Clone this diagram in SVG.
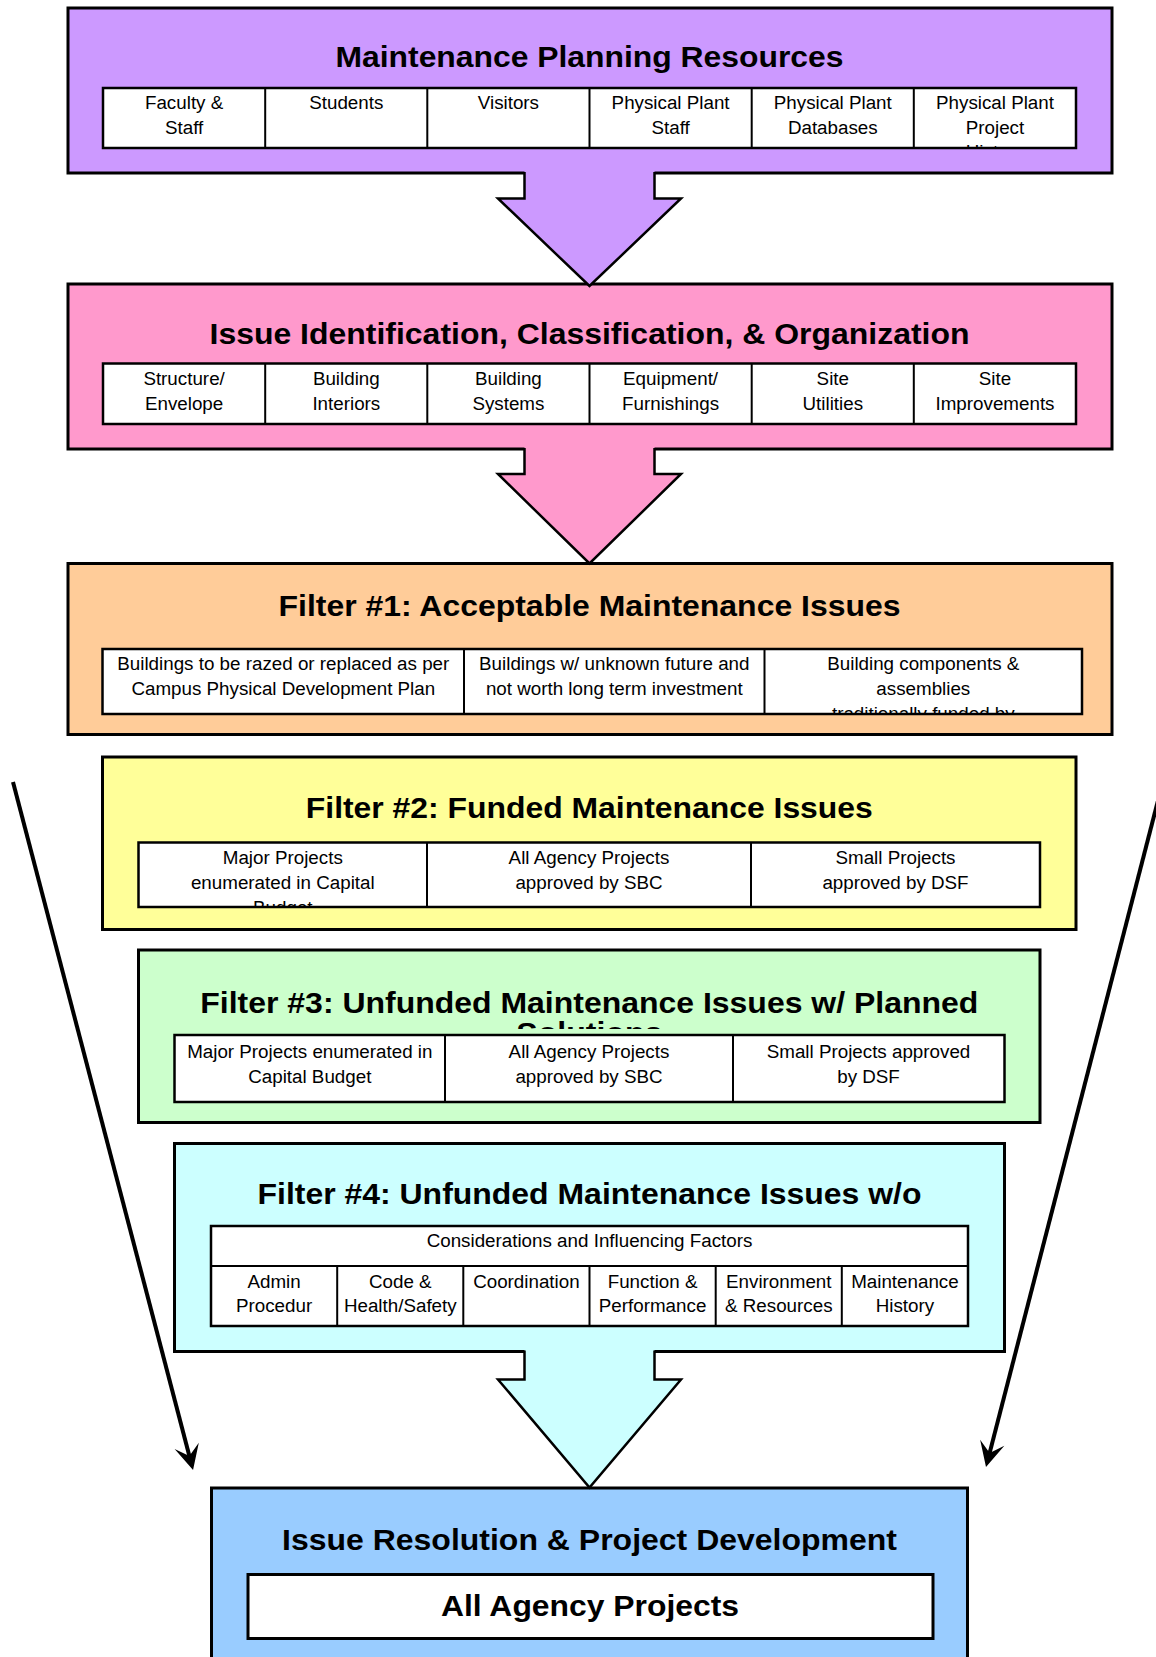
<svg xmlns="http://www.w3.org/2000/svg" width="1156" height="1657" viewBox="0 0 1156 1657">
<style>
.box{stroke:#000;stroke-width:3}
.tbg{fill:#fff;stroke:none}
.tol{fill:none;stroke:#000;stroke-width:2.5}
.dv{stroke:#000;stroke-width:2}
.title{font-family:"Liberation Sans",Arial,sans-serif;font-weight:bold;font-size:29px;text-anchor:middle;fill:#000}
.cell{font-family:"Liberation Sans",Arial,sans-serif;font-size:18.8px;text-anchor:middle;fill:#000}
.blk{fill:none;stroke:#000;stroke-width:2.5;stroke-linejoin:miter}
.conn{fill:none;stroke:#000;stroke-width:4}
</style>
<defs>
<marker id="stealth" viewBox="-26 -13 27 26" markerWidth="27" markerHeight="26" refX="-14" refY="0" orient="auto" markerUnits="userSpaceOnUse">
<path d="M0,0 L-25,-12.5 L-14.5,0 L-25,12.5 Z" fill="#000"/>
</marker>
<clipPath id="c1"><rect x="103" y="88" width="973" height="60"/></clipPath>
<clipPath id="c3"><rect x="102.5" y="649" width="979.5" height="65"/></clipPath>
<clipPath id="c4"><rect x="138.5" y="842.5" width="901.5" height="64.5"/></clipPath>
<clipPath id="c5t"><rect x="138.5" y="950" width="901.5" height="79"/></clipPath>
<clipPath id="c6"><rect x="211" y="1226" width="757" height="98"/></clipPath>
</defs>

<g id="resources">
<rect class="box" x="68" y="8" width="1044" height="165" fill="#CC99FF"/>
<text class="title" x="589.5" y="67" textLength="508" lengthAdjust="spacingAndGlyphs">Maintenance Planning Resources</text>
<rect class="tbg" x="103" y="88" width="973" height="60"/>
<g clip-path="url(#c1)">
<text class="cell" x="184.1" y="109"><tspan x="184.1">Faculty &amp;</tspan><tspan x="184.1" dy="24.5">Staff</tspan></text>
<text class="cell" x="346.3" y="109">Students</text>
<text class="cell" x="508.4" y="109">Visitors</text>
<text class="cell" x="670.6" y="109"><tspan x="670.6">Physical Plant</tspan><tspan x="670.6" dy="24.5">Staff</tspan></text>
<text class="cell" x="832.8" y="109"><tspan x="832.8">Physical Plant</tspan><tspan x="832.8" dy="24.5">Databases</tspan></text>
<text class="cell" x="995" y="109"><tspan x="995">Physical Plant</tspan><tspan x="995" dy="24.5">Project</tspan><tspan x="995" dy="24.5">History</tspan></text>
</g>
<rect class="tol" x="103" y="88" width="973" height="60"/>
<path class="dv" d="M265.2,88V148M427.3,88V148M589.5,88V148M751.7,88V148M913.8,88V148"/>
</g>

<g id="issue-identification">
<rect class="box" x="68" y="284" width="1044" height="165" fill="#FF99CC"/>
<text class="title" x="589.5" y="344" textLength="760" lengthAdjust="spacingAndGlyphs">Issue Identification, Classification, &amp; Organization</text>
<rect class="tbg" x="103" y="363.5" width="973" height="60.5"/>
<text class="cell" x="184.1" y="385"><tspan x="184.1">Structure/</tspan><tspan x="184.1" dy="24.5">Envelope</tspan></text>
<text class="cell" x="346.3" y="385"><tspan x="346.3">Building</tspan><tspan x="346.3" dy="24.5">Interiors</tspan></text>
<text class="cell" x="508.4" y="385"><tspan x="508.4">Building</tspan><tspan x="508.4" dy="24.5">Systems</tspan></text>
<text class="cell" x="670.6" y="385"><tspan x="670.6">Equipment/</tspan><tspan x="670.6" dy="24.5">Furnishings</tspan></text>
<text class="cell" x="832.8" y="385"><tspan x="832.8">Site</tspan><tspan x="832.8" dy="24.5">Utilities</tspan></text>
<text class="cell" x="995" y="385"><tspan x="995">Site</tspan><tspan x="995" dy="24.5">Improvements</tspan></text>
<rect class="tol" x="103" y="363.5" width="973" height="60.5"/>
<path class="dv" d="M265.2,363.5V424M427.3,363.5V424M589.5,363.5V424M751.7,363.5V424M913.8,363.5V424"/>
</g>

<g id="filter1">
<rect class="box" x="68" y="563.5" width="1044" height="171" fill="#FFCC99"/>
<text class="title" x="589.5" y="615.5" textLength="622" lengthAdjust="spacingAndGlyphs">Filter #1: Acceptable Maintenance Issues</text>
<rect class="tbg" x="102.5" y="649" width="979.5" height="65"/>
<g clip-path="url(#c3)">
<text class="cell" x="283.3" y="670"><tspan x="283.3">Buildings to be razed or replaced as per</tspan><tspan x="283.3" dy="25">Campus Physical Development Plan</tspan></text>
<text class="cell" x="614.3" y="670"><tspan x="614.3">Buildings w/ unknown future and</tspan><tspan x="614.3" dy="25">not worth long term investment</tspan></text>
<text class="cell" x="923.3" y="670"><tspan x="923.3">Building components &amp;</tspan><tspan x="923.3" dy="25">assemblies</tspan><tspan x="923.3" dy="25">traditionally funded by</tspan></text>
</g>
<rect class="tol" x="102.5" y="649" width="979.5" height="65"/>
<path class="dv" d="M464,649V714M764.5,649V714"/>
</g>

<g id="filter2">
<rect class="box" x="102.5" y="757" width="973.5" height="172.5" fill="#FFFF99"/>
<text class="title" x="589.3" y="818" textLength="567" lengthAdjust="spacingAndGlyphs">Filter #2: Funded Maintenance Issues</text>
<rect class="tbg" x="138.5" y="842.5" width="901.5" height="64.5"/>
<g clip-path="url(#c4)">
<text class="cell" x="282.8" y="864"><tspan x="282.8">Major Projects</tspan><tspan x="282.8" dy="25">enumerated in Capital</tspan><tspan x="282.8" dy="25">Budget</tspan></text>
<text class="cell" x="589" y="864"><tspan x="589">All Agency Projects</tspan><tspan x="589" dy="25">approved by SBC</tspan></text>
<text class="cell" x="895.5" y="864"><tspan x="895.5">Small Projects</tspan><tspan x="895.5" dy="25">approved by DSF</tspan></text>
</g>
<rect class="tol" x="138.5" y="842.5" width="901.5" height="64.5"/>
<path class="dv" d="M427,842.5V907M751,842.5V907"/>
</g>

<g id="filter3">
<rect class="box" x="138.5" y="950" width="901.5" height="172.5" fill="#CCFFCC"/>
<text class="title" x="589.3" y="1013" textLength="778" lengthAdjust="spacingAndGlyphs">Filter #3: Unfunded Maintenance Issues w/ Planned</text>
<text class="title" x="589.3" y="1043" textLength="146" lengthAdjust="spacingAndGlyphs" clip-path="url(#c5t)">Solutions</text>
<rect class="tbg" x="174.5" y="1035" width="830" height="67"/>
<text class="cell" x="309.8" y="1058"><tspan x="309.8">Major Projects enumerated in</tspan><tspan x="309.8" dy="24.5">Capital Budget</tspan></text>
<text class="cell" x="589" y="1058"><tspan x="589">All Agency Projects</tspan><tspan x="589" dy="24.5">approved by SBC</tspan></text>
<text class="cell" x="868.5" y="1058"><tspan x="868.5">Small Projects approved</tspan><tspan x="868.5" dy="24.5">by DSF</tspan></text>
<rect class="tol" x="174.5" y="1035" width="830" height="67"/>
<path class="dv" d="M445,1035V1102M733,1035V1102"/>
</g>

<g id="filter4">
<rect class="box" x="174.5" y="1143.5" width="830" height="208" fill="#CCFFFF"/>
<text class="title" x="589.5" y="1204" textLength="664" lengthAdjust="spacingAndGlyphs">Filter #4: Unfunded Maintenance Issues w/o</text>
<rect class="tbg" x="211" y="1226" width="757" height="100"/>
<g clip-path="url(#c6)">
<text class="cell" x="589.5" y="1246.5">Considerations and Influencing Factors</text>
<text class="cell" x="274.1" y="1288"><tspan x="274.1">Admin</tspan><tspan x="274.1" dy="23.5">Procedur</tspan><tspan x="274.1" dy="23.5">es</tspan></text>
<text class="cell" x="400.3" y="1288"><tspan x="400.3">Code &amp;</tspan><tspan x="400.3" dy="23.5">Health/Safety</tspan></text>
<text class="cell" x="526.4" y="1288">Coordination</text>
<text class="cell" x="652.6" y="1288"><tspan x="652.6">Function &amp;</tspan><tspan x="652.6" dy="23.5">Performance</tspan></text>
<text class="cell" x="778.8" y="1288"><tspan x="778.8">Environment</tspan><tspan x="778.8" dy="23.5">&amp; Resources</tspan></text>
<text class="cell" x="904.9" y="1288"><tspan x="904.9">Maintenance</tspan><tspan x="904.9" dy="23.5">History</tspan></text>
</g>
<rect class="tol" x="211" y="1226" width="757" height="100"/>
<path class="dv" d="M211,1266H968M337.2,1266V1326M463.3,1266V1326M589.5,1266V1326M715.7,1266V1326M841.8,1266V1326"/>
</g>

<g id="resolution">
<rect class="box" x="211.5" y="1488" width="756" height="220" fill="#99CCFF"/>
<text class="title" x="589.5" y="1550" textLength="615" lengthAdjust="spacingAndGlyphs">Issue Resolution &amp; Project Development</text>
<rect x="248" y="1574.5" width="685" height="64" fill="#fff" stroke="#000" stroke-width="3"/>
<text class="title" x="590" y="1616" textLength="298" lengthAdjust="spacingAndGlyphs">All Agency Projects</text>
</g>

<g id="connectors">
<polygon points="524.5,171 654.5,171 654.5,198.5 681,198.5 589.5,286 498,198.5 524.5,198.5" fill="#CC99FF"/>
<polyline class="blk" points="524.5,172 524.5,198.5 498,198.5 589.5,286 681,198.5 654.5,198.5 654.5,172"/>
<polygon points="524.5,447 654.5,447 654.5,474 681,474 589.5,563.5 498,474 524.5,474" fill="#FF99CC"/>
<polyline class="blk" points="524.5,448 524.5,474 498,474 589.5,563.5 681,474 654.5,474 654.5,448"/>
<polygon points="524.5,1349.5 654.5,1349.5 654.5,1379.5 681,1379.5 589.5,1487.5 498,1379.5 524.5,1379.5" fill="#CCFFFF"/>
<polyline class="blk" points="524.5,1350.5 524.5,1379.5 498,1379.5 589.5,1487.5 681,1379.5 654.5,1379.5 654.5,1350.5"/>
<path class="conn" d="M13,782 L189.5,1456.5" marker-end="url(#stealth)"/>
<path class="conn" d="M1162,785 L989.5,1453.4" marker-end="url(#stealth)"/>
</g>
</svg>
